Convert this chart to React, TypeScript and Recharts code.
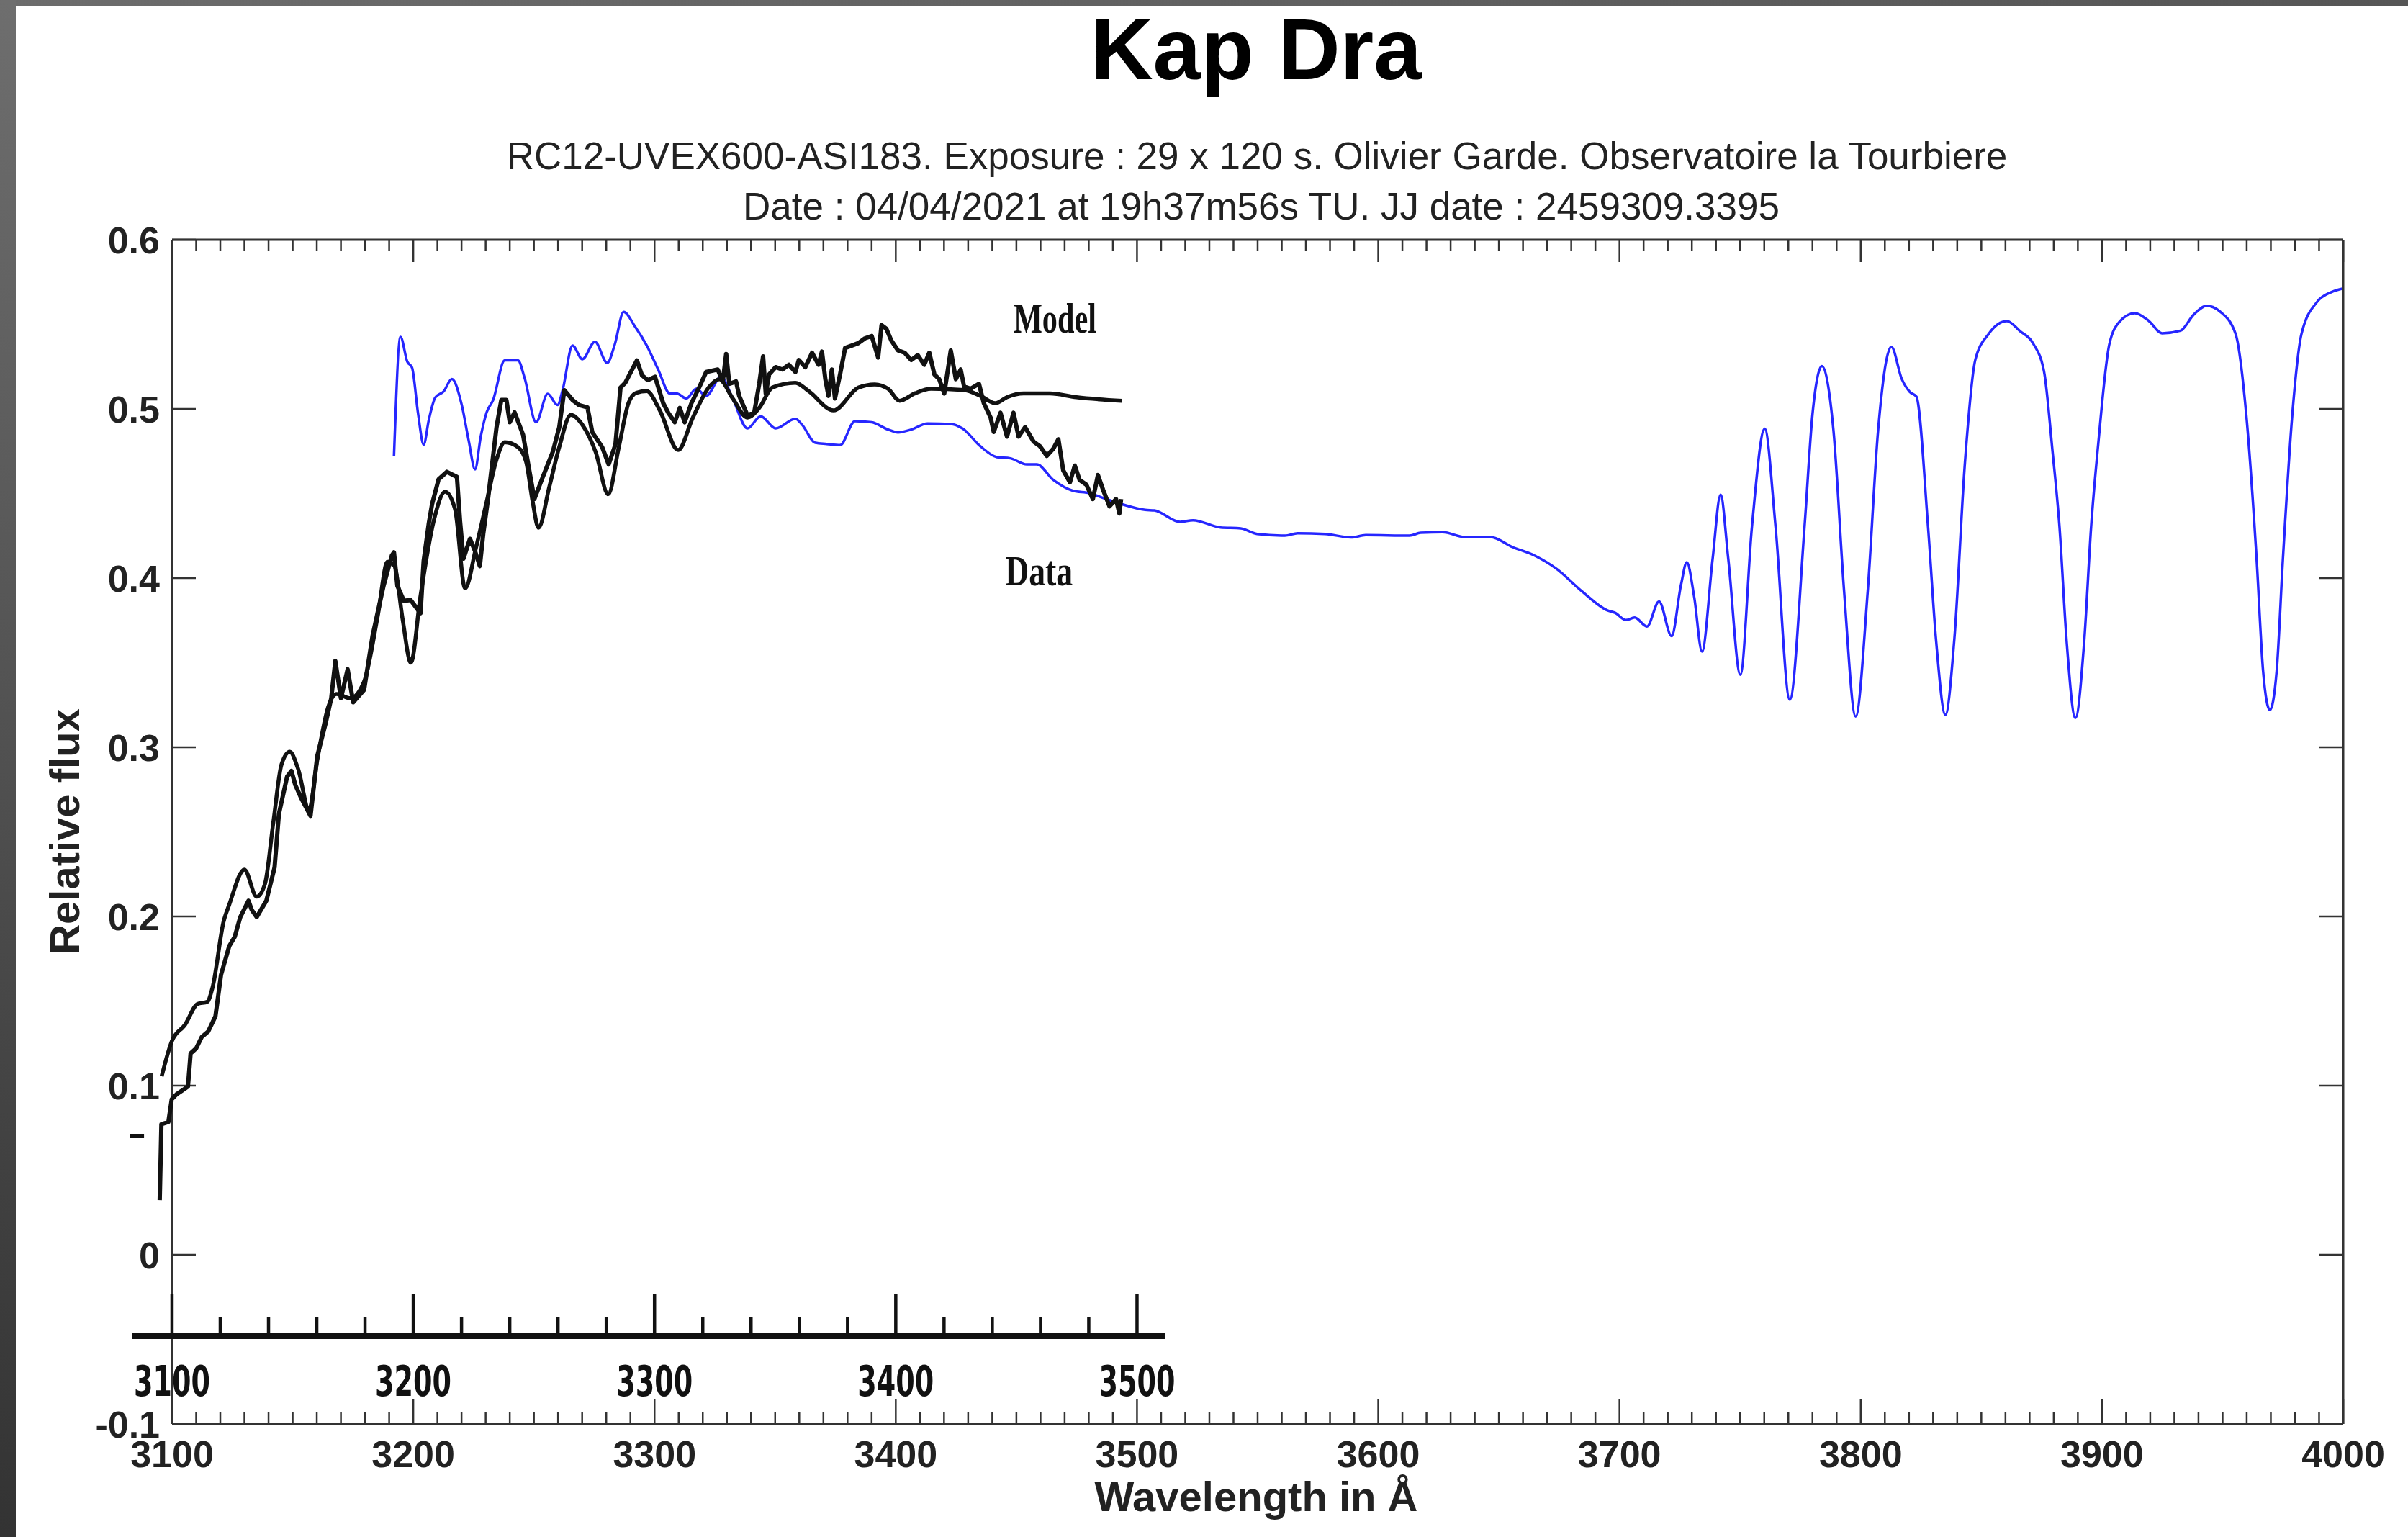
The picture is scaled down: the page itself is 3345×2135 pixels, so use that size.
import React from 'react';
import { LineChart, Line, XAxis, YAxis, ReferenceLine, ReferenceDot } from 'recharts';

const FONT = '"Liberation Sans", Arial, Helvetica, sans-serif';
const NARROW = '"Liberation Sans Narrow", "DejaVu Sans Condensed", "Liberation Sans", sans-serif';
const SERIF = '"Liberation Serif", "DejaVu Serif", serif';

// ---- text ----
const TITLE = 'Kap Dra';
const SUBTITLE_1 = 'RC12-UVEX600-ASI183. Exposure : 29 x 120 s. Olivier Garde. Observatoire la Tourbiere';
const SUBTITLE_2 = 'Date : 04/04/2021 at 19h37m56s TU. JJ date : 2459309.3395';
const X_TITLE = 'Wavelength in Å';
const Y_TITLE = 'Relative flux';
const MODEL_LABEL = 'Model';
const DATA_LABEL = 'Data';

// ---- ticks ----
const xTicks = Array.from({ length: 91 }, (_, i) => 3100 + 10 * i);
const yTicks = [-0.1, 0, 0.1, 0.2, 0.3, 0.4, 0.5, 0.6];
const scanTicks = Array.from({ length: 21 }, (_, i) => 3100 + 20 * i);

// ---- synthetic spectrum (blue) [wavelength, flux] ----
const syntheticSpectrum: [number, number][] = [
  [3192.0, 0.4723], [3194.7, 0.5426], [3197.5, 0.528], [3199.5, 0.5243], [3202.0, 0.497],
  [3204.3, 0.4789], [3206.5, 0.494], [3209.1, 0.5067], [3212.6, 0.5104], [3216.0, 0.5177],
  [3220.1, 0.5023], [3223.0, 0.481], [3225.6, 0.4643], [3228.0, 0.484], [3230.4, 0.498],
  [3233.1, 0.5053], [3237.9, 0.5287], [3243.4, 0.5287], [3246.1, 0.5185], [3250.9, 0.4921],
  [3255.7, 0.5089], [3259.8, 0.5023], [3261.9, 0.5111], [3266.0, 0.5375], [3270.1, 0.5294],
  [3275.3, 0.5397], [3280.4, 0.5272], [3283.5, 0.538], [3287.2, 0.5573], [3292.0, 0.5485],
  [3296.8, 0.5374], [3301.5, 0.5233], [3306.4, 0.5091], [3309.1, 0.5091], [3313.2, 0.5062],
  [3317.3, 0.5119], [3321.4, 0.5077], [3327.6, 0.519], [3332.4, 0.5062], [3338.5, 0.4885],
  [3344.0, 0.4956], [3350.2, 0.4885], [3358.4, 0.4942], [3361.2, 0.4906], [3366.6, 0.48],
  [3371.4, 0.4793], [3376.9, 0.4786], [3383.1, 0.4928], [3390.0, 0.4921], [3396.8, 0.4878],
  [3400.9, 0.4861], [3406.4, 0.4878], [3413.2, 0.4914], [3422.8, 0.4911], [3427.6, 0.4885],
  [3435.1, 0.4779], [3441.9, 0.4715], [3447.5, 0.4708], [3454.3, 0.4672], [3458.4, 0.4672],
  [3465.3, 0.458], [3473.5, 0.4516], [3480.4, 0.4502], [3485.9, 0.4474], [3494.1, 0.4435],
  [3503.4, 0.4403], [3507.2, 0.44], [3517.9, 0.4332], [3523.2, 0.4342], [3534.6, 0.4299],
  [3543.0, 0.4294], [3549.8, 0.4261], [3561.3, 0.4251], [3566.6, 0.4265], [3578.0, 0.4261],
  [3588.7, 0.424], [3594.8, 0.4254], [3613.0, 0.4251], [3617.6, 0.4268], [3626.7, 0.4271],
  [3635.9, 0.4243], [3646.5, 0.4243], [3655.7, 0.4183], [3664.8, 0.4133], [3673.9, 0.4055],
  [3684.6, 0.392], [3695.0, 0.3809], [3698.3, 0.3794], [3702.6, 0.3752], [3706.3, 0.3767],
  [3711.4, 0.3714], [3716.4, 0.3862], [3721.6, 0.3657], [3725.5, 0.396], [3727.9, 0.4094],
  [3731.0, 0.3885], [3734.2, 0.3566], [3738.6, 0.4113], [3741.9, 0.4493], [3745.1, 0.4113],
  [3750.1, 0.3429], [3754.9, 0.4303], [3760.2, 0.4883], [3764.7, 0.4303], [3770.6, 0.3281],
  [3776.7, 0.4303], [3780.0, 0.4968], [3783.9, 0.5253], [3788.7, 0.4873], [3793.1, 0.3923],
  [3797.9, 0.3182], [3802.9, 0.3923], [3807.2, 0.4873], [3812.7, 0.5367], [3817.0, 0.5177],
  [3820.3, 0.5101], [3823.1, 0.5072], [3827.9, 0.4303], [3831.2, 0.3638], [3835.1, 0.3192],
  [3838.8, 0.3638], [3843.2, 0.4683], [3847.5, 0.5291], [3853.0, 0.5443], [3860.6, 0.5519],
  [3866.0, 0.546], [3871.5, 0.5386], [3876.0, 0.522], [3879.5, 0.475], [3882.4, 0.4303],
  [3885.3, 0.3638], [3889.0, 0.3173], [3892.7, 0.3638], [3895.5, 0.4303], [3898.5, 0.48],
  [3903.1, 0.5386], [3907.5, 0.5519], [3913.6, 0.5566], [3919.5, 0.5519], [3924.9, 0.5447],
  [3932.5, 0.5462], [3938.0, 0.5557], [3943.4, 0.561], [3948.9, 0.5576], [3955.4, 0.5443],
  [3959.8, 0.4968], [3964.1, 0.4113], [3966.8, 0.3448], [3969.6, 0.322], [3972.4, 0.3448],
  [3975.0, 0.4113], [3978.9, 0.4968], [3982.7, 0.5443], [3989.2, 0.5633], [3995.0, 0.569],
  [4000.0, 0.5712],
];

// ---- scanned plot: model (smooth black) ----
const scanModel: [number, number][] = [
  [3095.7, 0.1055], [3099.9, 0.1262], [3105.4, 0.136], [3110.6, 0.1483], [3114.6, 0.1495],
  [3116.8, 0.158], [3121.4, 0.1971], [3123.7, 0.2069], [3130.0, 0.2277], [3135.1, 0.2117],
  [3138.5, 0.2191], [3142.0, 0.2557], [3145.4, 0.2899], [3148.8, 0.2973], [3152.2, 0.2875],
  [3156.8, 0.2631], [3160.2, 0.2924], [3164.8, 0.3241], [3168.2, 0.3315], [3173.9, 0.329],
  [3179.6, 0.3388], [3185.3, 0.3779], [3189.3, 0.4096], [3192.2, 0.4072], [3195.6, 0.3755],
  [3199.0, 0.35], [3203.0, 0.3895], [3208.4, 0.4334], [3213.2, 0.4511], [3217.3, 0.4408],
  [3221.5, 0.3939], [3226.0, 0.418], [3230.4, 0.445], [3234.5, 0.47], [3237.9, 0.4803],
  [3243.4, 0.4774], [3246.8, 0.4686], [3249.5, 0.445], [3251.9, 0.4298], [3256.4, 0.454],
  [3260.5, 0.4774], [3265.3, 0.4965], [3270.1, 0.4906], [3275.6, 0.4745], [3280.8, 0.4496],
  [3285.2, 0.4774], [3289.3, 0.5038], [3292.5, 0.5095], [3296.8, 0.5105], [3302.2, 0.4991],
  [3309.8, 0.4757], [3315.9, 0.4949], [3322.8, 0.5133], [3326.9, 0.5176], [3332.4, 0.5062],
  [3338.5, 0.4949], [3343.4, 0.5006], [3348.8, 0.5126], [3358.4, 0.5154], [3363.9, 0.5105],
  [3374.2, 0.4991], [3384.5, 0.5126], [3391.3, 0.5145], [3396.8, 0.5119], [3401.6, 0.5048],
  [3407.8, 0.5091], [3414.6, 0.5119], [3428.3, 0.5112], [3435.1, 0.5077], [3441.3, 0.5034],
  [3446.1, 0.5069], [3453.0, 0.5091], [3463.9, 0.5091], [3474.9, 0.5069], [3493.8, 0.5048],
];

// ---- scanned plot: observed data (noisy black) ----
const scanData: [number, number][] = [
  [3094.9, 0.0323], [3095.6, 0.0772], [3098.5, 0.0785], [3099.9, 0.092], [3102.0, 0.095],
  [3106.6, 0.0994], [3107.7, 0.119], [3110.0, 0.122], [3112.3, 0.1287], [3115.0, 0.132],
  [3118.0, 0.141], [3120.3, 0.1654], [3123.7, 0.1824], [3126.0, 0.188], [3128.3, 0.1996],
  [3131.7, 0.2093], [3133.0, 0.204], [3135.1, 0.1996], [3139.1, 0.2093], [3142.5, 0.2289],
  [3144.3, 0.2606], [3147.7, 0.2826], [3149.5, 0.286], [3151.1, 0.2777], [3153.4, 0.2704],
  [3157.4, 0.2594], [3160.2, 0.2948], [3163.7, 0.3143], [3166.0, 0.329], [3167.7, 0.351],
  [3170.0, 0.329], [3172.8, 0.3461], [3175.1, 0.3266], [3179.6, 0.3339], [3183.1, 0.3657],
  [3187.6, 0.395], [3191.1, 0.4133], [3192.0, 0.4152], [3193.4, 0.3954], [3196.1, 0.3866],
  [3198.9, 0.387], [3203.0, 0.3792], [3204.3, 0.41], [3206.4, 0.432], [3207.8, 0.4437],
  [3210.5, 0.4584], [3213.9, 0.4628], [3218.1, 0.4598], [3219.4, 0.4334], [3220.8, 0.4115],
  [3223.5, 0.4232], [3225.6, 0.4159], [3227.6, 0.4071], [3229.0, 0.4261], [3231.1, 0.4481],
  [3234.5, 0.4891], [3236.5, 0.5053], [3238.6, 0.5053], [3240.0, 0.4921], [3242.0, 0.498],
  [3245.5, 0.4848], [3248.2, 0.4628], [3250.2, 0.4467], [3253.7, 0.4598], [3257.8, 0.4745],
  [3260.5, 0.4891], [3262.6, 0.5111], [3266.0, 0.5053], [3268.7, 0.5023], [3272.2, 0.5009],
  [3274.2, 0.4862], [3278.3, 0.4774], [3281.0, 0.4672], [3283.8, 0.4789], [3285.9, 0.5126],
  [3287.9, 0.5155], [3292.7, 0.5287], [3294.8, 0.5199], [3297.2, 0.517], [3300.2, 0.519],
  [3303.6, 0.5034], [3305.7, 0.4977], [3308.4, 0.4921], [3310.5, 0.5006], [3312.5, 0.4921],
  [3315.3, 0.5034], [3318.7, 0.5133], [3321.4, 0.5218], [3326.2, 0.5233], [3328.3, 0.5162],
  [3329.7, 0.5325], [3331.0, 0.5148], [3333.8, 0.5162], [3335.1, 0.5077], [3338.5, 0.4963],
  [3341.3, 0.4977], [3343.4, 0.5148], [3345.0, 0.5311], [3346.1, 0.5091], [3347.5, 0.5204],
  [3350.2, 0.5247], [3353.0, 0.5233], [3355.7, 0.5261], [3358.4, 0.5218], [3359.8, 0.5289],
  [3362.5, 0.5247], [3365.3, 0.5332], [3368.0, 0.5261], [3369.4, 0.5339], [3370.8, 0.5176],
  [3372.1, 0.5077], [3373.5, 0.5233], [3374.8, 0.5062], [3376.9, 0.5204], [3379.0, 0.536],
  [3381.7, 0.5374], [3384.5, 0.5389], [3387.2, 0.5417], [3390.0, 0.5431], [3392.7, 0.5304],
  [3394.1, 0.5495], [3396.1, 0.5474], [3398.2, 0.5403], [3400.9, 0.5346], [3403.7, 0.5332],
  [3406.4, 0.5289], [3409.1, 0.5318], [3411.8, 0.5261], [3413.9, 0.5332], [3416.0, 0.5204],
  [3418.0, 0.5176], [3420.1, 0.5091], [3422.8, 0.5346], [3424.9, 0.5176], [3426.9, 0.5233],
  [3428.3, 0.5133], [3431.0, 0.5119], [3434.5, 0.5148], [3436.5, 0.5034], [3439.3, 0.4949],
  [3440.6, 0.4864], [3443.4, 0.4977], [3446.1, 0.4836], [3448.8, 0.4977], [3450.9, 0.4836],
  [3453.6, 0.4892], [3457.1, 0.4807], [3459.8, 0.4779], [3462.6, 0.4722], [3465.3, 0.4765],
  [3467.4, 0.4821], [3469.4, 0.4637], [3472.2, 0.4566], [3474.2, 0.4665], [3476.2, 0.458],
  [3479.0, 0.4552], [3481.7, 0.4467], [3483.8, 0.4609], [3485.9, 0.4523], [3488.6, 0.4424],
  [3491.3, 0.4467], [3492.7, 0.4382], [3493.4, 0.4467],
];

// scan annotations (data units)
const scanDash = { x1: 3082.4, x2: 3088.4, y: 0.0702 };
const modelLabelPos = { x: 3448.8, y: 0.5451 };
const dataLabelPos = { x: 3445.3, y: 0.3957 };

const toRows = (arr: [number, number][]) => arr.map(([wl, flux]) => ({ wl, flux }));
const syntheticRows = toRows(syntheticSpectrum);
const modelRows = toRows(scanModel);
const dataRows = toRows(scanData);

const AXIS = '#333';
const LABEL = '#222';
const isMajor = (v: number) => Math.abs(v % 100) < 1e-6;

const BottomTick = (p: any) => {
  const v = p.payload.value;
  const major = isMajor(v);
  return (
    <g>
      <line x1={p.x} x2={p.x} y1={p.y} y2={p.y - (major ? 34 : 17)} stroke={AXIS} strokeWidth={2.5} />
      {major && (
        <text x={p.x} y={p.y + 60} textAnchor="middle" fontFamily={FONT} fontWeight="bold" fontSize={52} fill={LABEL}>
          {v}
        </text>
      )}
    </g>
  );
};

const TopTick = (p: any) => {
  const major = isMajor(p.payload.value);
  return <line x1={p.x} x2={p.x} y1={p.y} y2={p.y + (major ? 31 : 15)} stroke={AXIS} strokeWidth={2.5} />;
};

const LeftTick = (p: any) => {
  const v = p.payload.value;
  const txt = Math.abs(v) < 1e-9 ? '0' : v.toFixed(1);
  return (
    <g>
      <line x1={p.x} x2={p.x + 33} y1={p.y} y2={p.y} stroke={AXIS} strokeWidth={2.5} />
      <text x={p.x - 17} y={p.y + 19} textAnchor="end" fontFamily={FONT} fontWeight="bold" fontSize={52} fill={LABEL}>
        {txt}
      </text>
    </g>
  );
};

const RightTick = (p: any) => (
  <line x1={p.x} x2={p.x - 33} y1={p.y} y2={p.y} stroke={AXIS} strokeWidth={2.5} />
);

const ScanTick = (p: any) => {
  const v = p.payload.value;
  const major = isMajor(v);
  return (
    <g>
      <line x1={p.x} x2={p.x} y1={p.y} y2={p.y - (major ? 58 : 27)} stroke="#111" strokeWidth={4.5} />
      {major && (
        <text
          x={p.x}
          y={p.y + 83}
          textAnchor="middle"
          fontFamily={NARROW}
          fontWeight="bold"
          fontSize={58}
          fill="#111"
          textLength={106}
          lengthAdjust="spacingAndGlyphs"
        >
          {v}
        </text>
      )}
    </g>
  );
};

const makeSerifLabel = (txt: string, len: number) => (p: any) => (
  <text
    x={p.cx}
    y={p.cy}
    fontFamily={SERIF}
    fontWeight="bold"
    fontSize={60}
    fill="#111"
    textLength={len}
    lengthAdjust="spacingAndGlyphs"
  >
    {txt}
  </text>
);

export default function App() {
  return (
    <div style={{ position: 'absolute', left: 0, top: 0, width: 3345, height: 2135, background: '#fff', overflow: 'hidden' }}>
      {/* frame bands */}
      <div style={{ position: 'absolute', left: 0, top: 0, width: 3345, height: 9, background: 'linear-gradient(to right, #6c6c6c, #565656)' }} />
      <div style={{ position: 'absolute', left: 0, top: 0, width: 22, height: 2135, background: 'linear-gradient(to bottom, #6e6e6e, #4a4a4a 60%, #333)' }} />

      {/* main chart */}
      <div style={{ position: 'absolute', left: 0, top: 0 }}>
        <LineChart width={3345} height={2135} margin={{ top: 332, right: 89, bottom: 97, left: 89 }}>
          <XAxis
            xAxisId="b"
            dataKey="wl"
            type="number"
            domain={[3100, 4000]}
            allowDataOverflow
            ticks={xTicks}
            interval={0}
            tickSize={0}
            tickMargin={0}
            tickLine={false}
            tick={BottomTick}
            axisLine={{ stroke: AXIS, strokeWidth: 3 }}
            height={60}
            orientation="bottom"
          />
          <XAxis
            xAxisId="t"
            dataKey="wl"
            type="number"
            domain={[3100, 4000]}
            allowDataOverflow
            ticks={xTicks}
            interval={0}
            tickSize={0}
            tickMargin={0}
            tickLine={false}
            tick={TopTick}
            axisLine={{ stroke: AXIS, strokeWidth: 3 }}
            height={1}
            orientation="top"
          />
          <YAxis
            yAxisId="l"
            type="number"
            domain={[-0.1, 0.6]}
            allowDataOverflow
            ticks={yTicks}
            interval={0}
            tickSize={0}
            tickMargin={0}
            tickLine={false}
            tick={LeftTick}
            axisLine={{ stroke: AXIS, strokeWidth: 3 }}
            width={150}
          />
          <YAxis
            yAxisId="r"
            orientation="right"
            type="number"
            domain={[-0.1, 0.6]}
            allowDataOverflow
            ticks={yTicks}
            interval={0}
            tickSize={0}
            tickMargin={0}
            tickLine={false}
            tick={RightTick}
            axisLine={{ stroke: AXIS, strokeWidth: 3 }}
            width={1}
          />
          <Line
            xAxisId="b"
            yAxisId="l"
            data={syntheticRows}
            dataKey="flux"
            type="monotone"
            stroke="#2626ff"
            strokeWidth={3.5}
            dot={false}
            isAnimationActive={false}
          />
        </LineChart>
      </div>

      {/* scanned comparison plot overlay */}
      <div style={{ position: 'absolute', left: 164, top: 333 }}>
        <LineChart width={1554} height={1633} margin={{ top: 0, right: 100, bottom: 0, left: 20 }}>
          <XAxis
            dataKey="wl"
            type="number"
            domain={[3083.6, 3511.5]}
            allowDataOverflow
            ticks={scanTicks}
            interval={0}
            tickSize={0}
            tickMargin={0}
            tickLine={false}
            tick={ScanTick}
            axisLine={{ stroke: '#111', strokeWidth: 8 }}
            height={110}
          />
          <YAxis hide type="number" domain={[-0.0481, 0.6]} allowDataOverflow />
          <Line
            data={modelRows}
            dataKey="flux"
            type="monotone"
            stroke="#111"
            strokeWidth={5.5}
            dot={false}
            isAnimationActive={false}
          />
          <Line
            data={dataRows}
            dataKey="flux"
            type="linear"
            stroke="#111"
            strokeWidth={6}
            strokeLinejoin="round"
            dot={false}
            isAnimationActive={false}
          />
          <ReferenceLine
            segment={[{ x: scanDash.x1, y: scanDash.y }, { x: scanDash.x2, y: scanDash.y }]}
            stroke="#111"
            strokeWidth={6}
            ifOverflow="visible"
          />
          <ReferenceDot x={modelLabelPos.x} y={modelLabelPos.y} r={0} ifOverflow="visible" shape={makeSerifLabel(MODEL_LABEL, 115)} />
          <ReferenceDot x={dataLabelPos.x} y={dataLabelPos.y} r={0} ifOverflow="visible" shape={makeSerifLabel(DATA_LABEL, 94)} />
        </LineChart>
      </div>

      {/* titles */}
      <svg width={3345} height={2135} style={{ position: 'absolute', left: 0, top: 0, pointerEvents: 'none' }}>
        <text x={1745} y={110} textAnchor="middle" fontFamily={FONT} fontWeight="bold" fontSize={120} fill="#000">
          {TITLE}
        </text>
        <text x={1746} y={235} textAnchor="middle" fontFamily={FONT} fontSize={53} fill={LABEL}>
          {SUBTITLE_1}
        </text>
        <text x={1752} y={305} textAnchor="middle" fontFamily={FONT} fontSize={53} fill={LABEL}>
          {SUBTITLE_2}
        </text>
        <text x={1745} y={2099} textAnchor="middle" fontFamily={FONT} fontWeight="bold" fontSize={58} fill={LABEL}>
          {X_TITLE}
        </text>
        <text
          transform="translate(110,1155) rotate(-90)"
          textAnchor="middle"
          fontFamily={FONT}
          fontWeight="bold"
          fontSize={58}
          fill={LABEL}
        >
          {Y_TITLE}
        </text>
      </svg>
    </div>
  );
}
